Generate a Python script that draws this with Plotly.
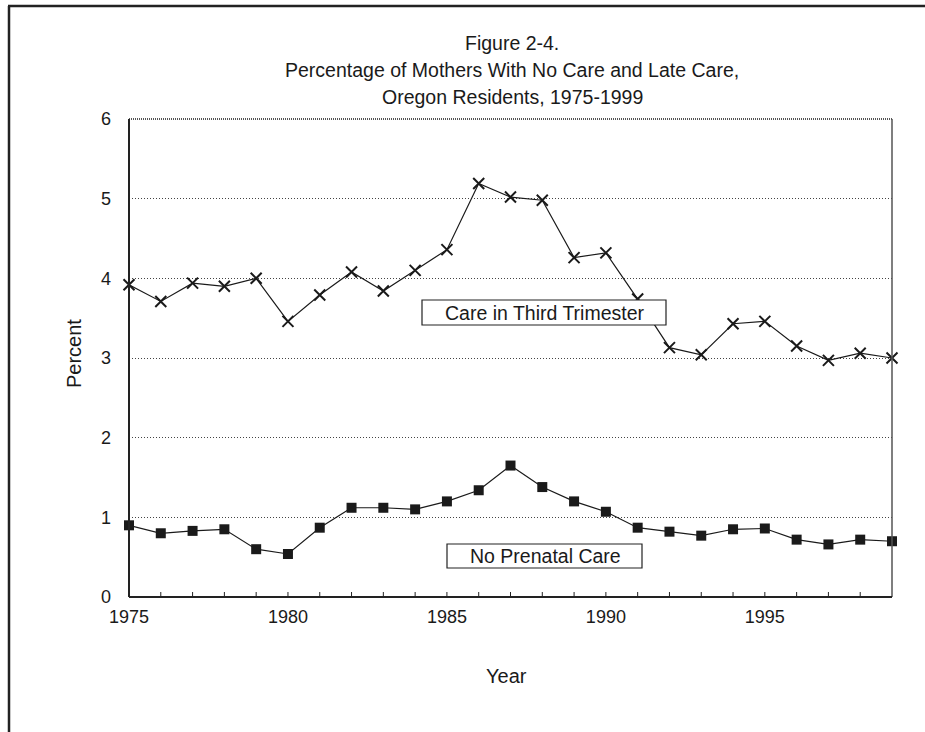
import plotly.graph_objects as go

years = list(range(1975, 2000))
third_trimester = [3.92, 3.71, 3.94, 3.90, 4.00, 3.46, 3.79, 4.08, 3.84, 4.10, 4.36, 5.19, 5.02,
                   4.98, 4.26, 4.32, 3.74, 3.13, 3.04, 3.43, 3.46, 3.15, 2.97, 3.06, 3.00]
no_prenatal = [0.90, 0.80, 0.83, 0.85, 0.60, 0.54, 0.87, 1.12, 1.12, 1.10, 1.20, 1.34, 1.65,
               1.38, 1.20, 1.07, 0.87, 0.82, 0.77, 0.85, 0.86, 0.72, 0.66, 0.72, 0.70]
x_tick_vals = [1975, 1980, 1985, 1990, 1995]
y_tick_vals = [0, 1, 2, 3, 4, 5, 6]
title_lines = ["Figure 2-4.", "Percentage of Mothers With No Care and Late Care,",
               "Oregon Residents, 1975-1999"]

W, H = 925, 732
L, R, T, B = 129, 892, 119, 597

def px(xp):
    return (xp - L) / (R - L)

def py(yp):
    return (B - yp) / (B - T)

FONT = "Liberation Sans, Arial, sans-serif"
INK = "#1a1a1a"

fig = go.Figure()
fig.add_trace(go.Scatter(
    x=years, y=third_trimester, mode="lines+markers",
    line=dict(color=INK, width=1.2),
    marker=dict(symbol="x-thin-open", size=11, line=dict(color=INK, width=2)),
    cliponaxis=False, showlegend=False, hoverinfo="skip"))
fig.add_trace(go.Scatter(
    x=years, y=no_prenatal, mode="lines+markers",
    line=dict(color=INK, width=1.2),
    marker=dict(symbol="square", size=10, color=INK),
    cliponaxis=False, showlegend=False, hoverinfo="skip"))

fig.update_layout(
    width=W, height=H,
    margin=dict(l=L, r=W - R, t=T, b=H - B),
    paper_bgcolor="white", plot_bgcolor="white",
    font=dict(family=FONT, color=INK, size=18),
    showlegend=False,
    xaxis=dict(
        range=[1975, 1999], tickmode="array", tickvals=x_tick_vals,
        ticktext=[str(v) for v in x_tick_vals],
        showgrid=False, zeroline=False, showline=False,
        ticks="", tickfont=dict(size=18), ticklabelstandoff=7),
    yaxis=dict(
        range=[0, 6], tickmode="array", tickvals=y_tick_vals,
        showgrid=True, gridcolor="#444444", griddash="1px,2px", gridwidth=1,
        zeroline=False, showline=False, ticks="", tickfont=dict(size=18),
        ticklabelstandoff=17),
)

shapes = []
# plot frame: top dotted gray, right gray, left & bottom dark
shapes.append(dict(type="line", xref="paper", yref="paper", x0=0, x1=1, y0=1, y1=1,
                   line=dict(color="#555555", width=2, dash="1px,1px")))
shapes.append(dict(type="line", xref="paper", yref="paper", x0=1, x1=1, y0=0, y1=1,
                   line=dict(color="#555555", width=1.5)))
shapes.append(dict(type="line", xref="paper", yref="paper", x0=0, x1=0, y0=0, y1=1,
                   line=dict(color="#222222", width=2)))
shapes.append(dict(type="line", xref="paper", yref="paper", x0=0, x1=1, y0=0, y1=0,
                   line=dict(color="#222222", width=2)))
# year ticks pointing up
for yr in years[1:-1]:
    shapes.append(dict(type="line", xref="x", yref="paper", x0=yr, x1=yr, y0=0, y1=5 / (B - T),
                       line=dict(color="#222222", width=1)))
# outer frame: left and top edges of the page box
shapes.append(dict(type="line", xref="paper", yref="paper", x0=px(9), x1=px(9), y0=py(6), y1=py(740),
                   line=dict(color="#222222", width=2.5)))
shapes.append(dict(type="line", xref="paper", yref="paper", x0=px(8), x1=px(935), y0=py(6), y1=py(6),
                   line=dict(color="#222222", width=2.5)))
# label boxes
shapes.append(dict(type="rect", xref="paper", yref="paper", x0=px(422), x1=px(666), y0=py(325), y1=py(300),
                   line=dict(color="#222222", width=1.2), fillcolor="white", layer="above"))
shapes.append(dict(type="rect", xref="paper", yref="paper", x0=px(447), x1=px(642), y0=py(568), y1=py(544),
                   line=dict(color="#222222", width=1.2), fillcolor="white", layer="above"))
fig.update_layout(shapes=shapes)

def label(text, xp, yp, size, angle=0):
    fig.add_annotation(text=text, xref="paper", yref="paper", x=px(xp), y=py(yp),
                       xanchor="center", yanchor="middle", textangle=angle,
                       showarrow=False, font=dict(size=size, color=INK))

for line, yc in zip(title_lines, [43, 70, 97]):
    label(line, 512, yc, 19.5)

label("Care in Third Trimester", 545, 313, 19.5)
label("No Prenatal Care", 545, 556, 19.5)
label("Year", 506, 676, 20)
label("Percent", 74, 354, 20, angle=-90)

fig.write_html("out.html", config={"displayModeBar": False},
               post_script="document.body.style.margin='0px';")
